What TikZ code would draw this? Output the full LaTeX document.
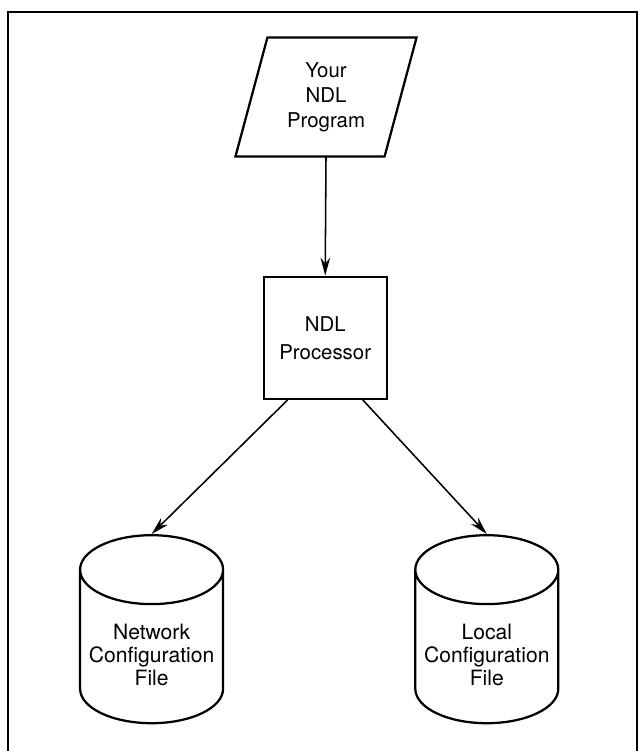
\documentclass[tikz,border=0pt]{standalone}
\usepackage{fontspec}
\setmainfont{TeX Gyre Heros}
\usetikzlibrary{shapes.geometric, arrows.meta, calc}

% file label, set a little below the middle of the drum
\newcommand{\drumtext}[1]{\raisebox{-0.4cm}[0pt][0pt]{\begin{tabular}{@{}c@{}}#1\end{tabular}}}

\begin{document}
\begin{tikzpicture}[thick,
        every node/.style={align=center},
        progtext/.style={minimum width=4.5cm, minimum height=2.95cm, inner sep=0pt, font=\fontsize{14.5}{17.8}\selectfont},
        procbox/.style={draw, line width=1.6pt, minimum width=3.075cm, minimum height=3.05cm, inner sep=0pt,
            font=\fontsize{14.5}{20}\selectfont},
        filedb/.style={draw, line width=1.6pt, cylinder, shape border rotate=90, aspect=0.55,
            minimum width=3.575cm, minimum height=4.7cm, inner sep=0pt,
            font=\fontsize{15}{16.2}\selectfont},
        flow/.style={-{Stealth[length=0.45cm, width=0.24cm]}, line width=1.1pt}]
        \useasboundingbox (0, 0) rectangle (16, 18.775);

        % Frame
        \draw[line width=1.8pt] (0.2, -0.1) -- (0.2, 18.475) -- (15.93, 18.475) -- (15.93, -0.1);

        % Program
        \node[progtext] (prog) at (8.15, 16.35) {Your\\NDL\\Program};
        \draw[line width=1.6pt] ([xshift=0.8cm]prog.north west) -- (prog.north east)
            -- ([xshift=-0.8cm]prog.south east) -- (prog.south west) -- cycle;

        % Processor
        \node[procbox] (proc) at (8.13, 10.33) {NDL\\Processor};

        % Files
        \node[filedb] (netcfg) at (3.79, 2.6) {\drumtext{Network\\Configuration\\File}};
        \node[filedb] (loccfg) at (12.17, 2.6) {\drumtext{Local\\Configuration\\File}};

        % Arrows
        \draw[flow] (prog.south) -- (proc.north);
        \draw[flow] ($(proc.south west)!0.2!(proc.south east)$) -- (netcfg.north);
        \draw[flow] ($(proc.south west)!0.8!(proc.south east)$) -- (loccfg.north);
    \end{tikzpicture}
\end{document}
